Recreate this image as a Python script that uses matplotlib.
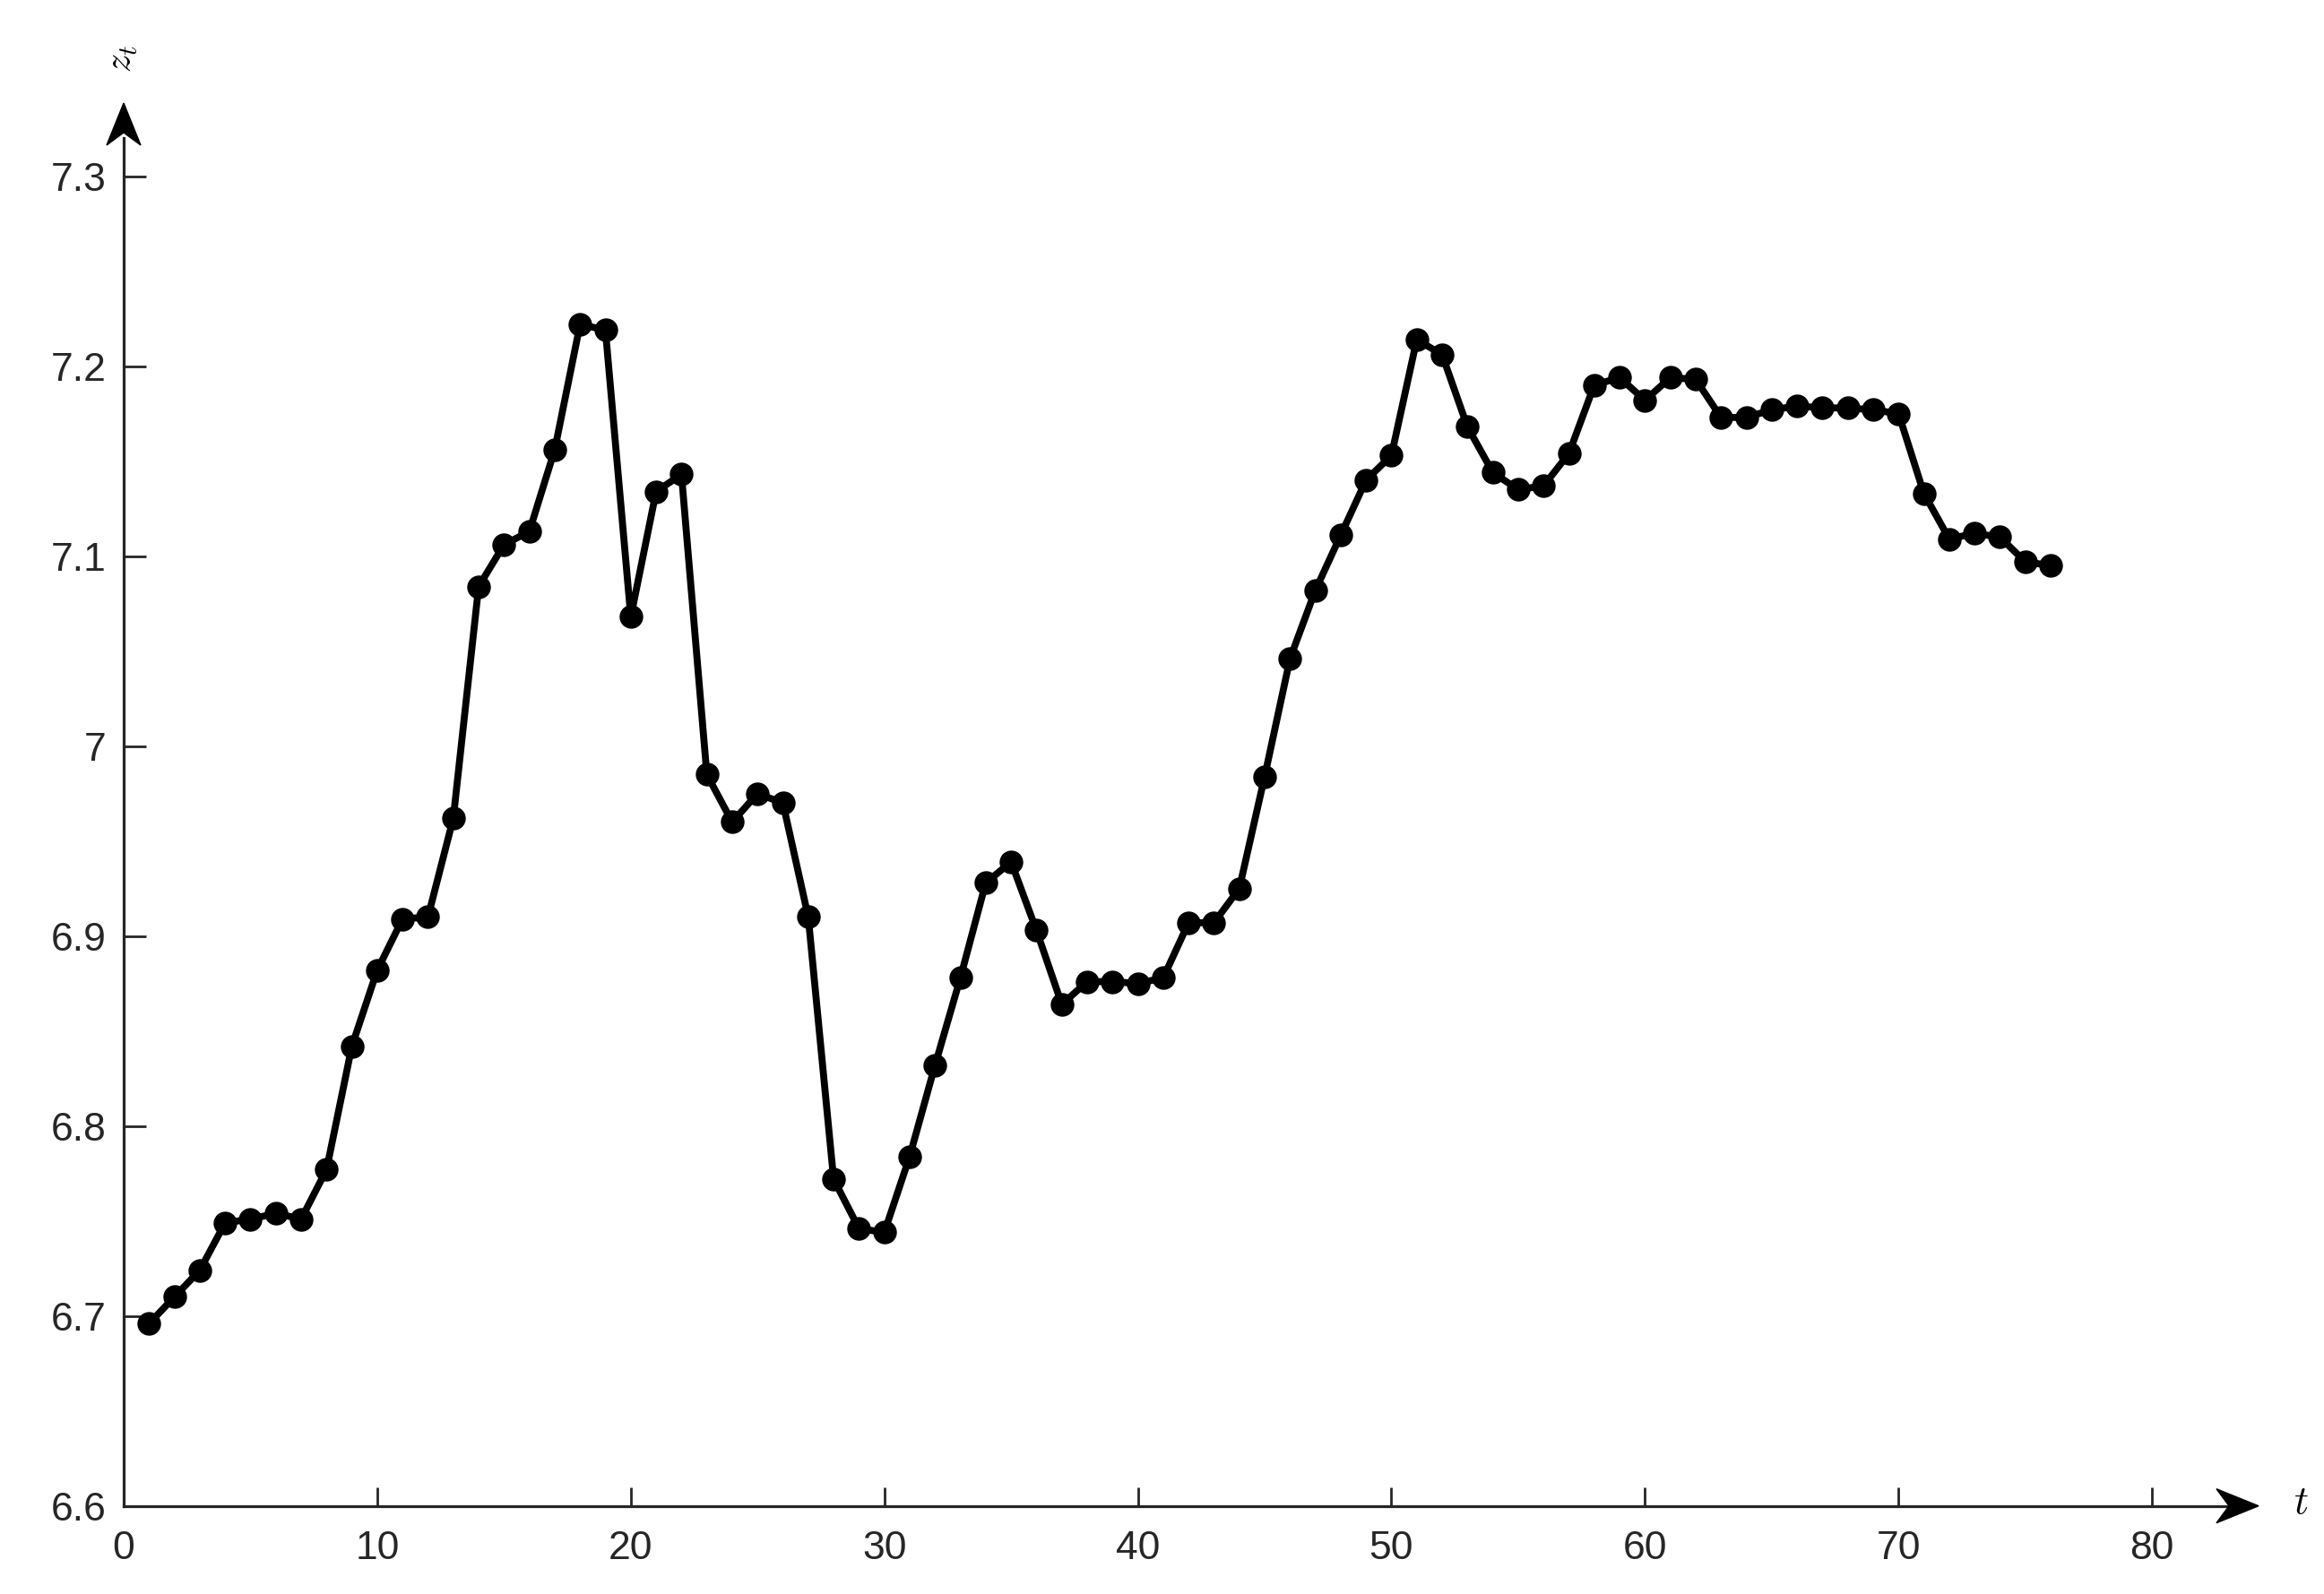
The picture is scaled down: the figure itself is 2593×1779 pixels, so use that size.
import matplotlib
matplotlib.use("Agg")
import matplotlib.pyplot as plt
from matplotlib.patches import Polygon
from matplotlib.transforms import IdentityTransform

t = list(range(1, 77))
z = [6.696, 6.710, 6.724, 6.749, 6.751, 6.754, 6.751, 6.777, 6.842, 6.882,
     6.909, 6.910, 6.962, 7.084, 7.106, 7.113, 7.156, 7.222, 7.219, 7.068,
     7.134, 7.143, 6.985, 6.960, 6.975, 6.970, 6.910, 6.772, 6.746, 6.744,
     6.784, 6.832, 6.878, 6.928, 6.939, 6.903, 6.864, 6.876, 6.876, 6.875,
     6.878, 6.907, 6.907, 6.925, 6.984, 7.046, 7.082, 7.111, 7.140, 7.153,
     7.214, 7.206, 7.168, 7.144, 7.135, 7.137, 7.154, 7.190, 7.194, 7.182,
     7.194, 7.193, 7.173, 7.173, 7.177, 7.179, 7.178, 7.178, 7.177, 7.175,
     7.133, 7.109, 7.112, 7.110, 7.097, 7.095]
xticks = [0, 10, 20, 30, 40, 50, 60, 70, 80]
yticks = [6.6, 6.7, 6.8, 6.9, 7.0, 7.1, 7.2, 7.3]
ytick_labels = ["6.6", "6.7", "6.8", "6.9", "7", "7.1", "7.2", "7.3"]

plt.rcParams['font.family'] = ['Liberation Sans', 'DejaVu Sans']
plt.rcParams['mathtext.fontset'] = 'cm'

W, H = 2593, 1779
fig = plt.figure(figsize=(W / 100, H / 100), dpi=100)
x0, y0 = 138 / W, 1 - 1680.7 / H
x1, y1 = 2520 / W, 1 - 115 / H
ax = fig.add_axes([x0, y0, x1 - x0, y1 - y0])
ax.set_xlim(0, 84.2)
ax.set_ylim(6.6, 7.3385)

ax.plot(t, z, color='black', lw=5.6, marker='o', ms=18, mfc='black', mec='black',
        clip_on=False, zorder=5)

axis_col = '#262626'
for s in ['top', 'right']:
    ax.spines[s].set_visible(False)
for s in ['left', 'bottom']:
    ax.spines[s].set_color(axis_col)
    ax.spines[s].set_linewidth(2.3)
ax.spines['left'].set_bounds(6.6, 7.32)
ax.spines['bottom'].set_bounds(0, 83.0)

ax.set_xticks(xticks)
ax.set_yticks(yticks)
ax.set_yticklabels(ytick_labels)
ax.tick_params(axis='y', direction='in', length=18, width=2.0, color=axis_col,
               labelsize=32, pad=14, labelcolor='#262626')
ax.tick_params(axis='x', direction='in', length=15, width=2.0, color=axis_col,
               labelsize=32, pad=20, labelcolor='#262626')

# arrow heads (display pixel coordinates)
def arrow(tip, direction, L=47, Wd=19, notch=14):
    tx, ty = tip
    dx, dy = direction
    px, py = -dy, dx
    pts = [(tx, ty),
           (tx - dx * L + px * Wd, ty - dy * L + py * Wd),
           (tx - dx * (L - notch), ty - dy * (L - notch)),
           (tx - dx * L - px * Wd, ty - dy * L - py * Wd)]
    fig.patches.append(Polygon(pts, closed=True, facecolor='black', edgecolor='black',
                               transform=IdentityTransform(), figure=fig))

fig.canvas.draw()
ox, oy = ax.transAxes.transform((0, 0))
tx, ty = ax.transAxes.transform((1, 1))
arrow((tx, oy), (1, 0))
arrow((ox, ty), (0, 1))

fig.text(2567 / W, 1 - 1678 / H, r'$t$', fontsize=32, ha='center', va='center')
fig.text(136 / W, 1 - 66 / H, r'$z_t$', fontsize=30, ha='center', va='center', rotation=90)

fig.savefig('out.png', dpi=100, facecolor='white')
